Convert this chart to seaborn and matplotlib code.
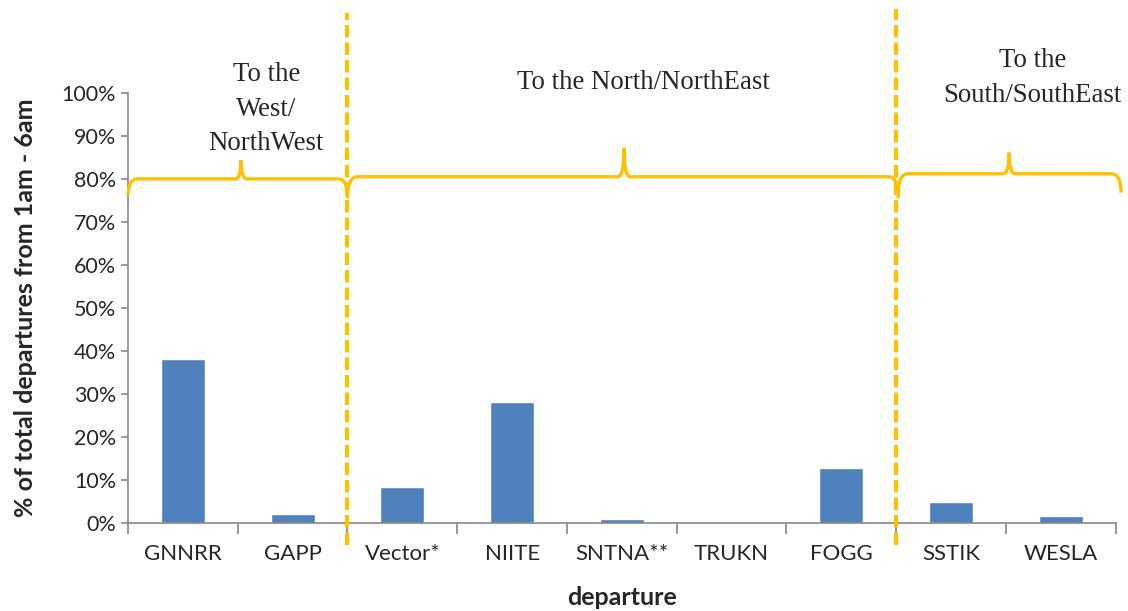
import seaborn as sns
import matplotlib.pyplot as plt
from matplotlib.path import Path
from matplotlib.patches import PathPatch
from matplotlib.ticker import FuncFormatter

# share of departures between 1am and 6am, per departure procedure
departures = ["GNNRR", "GAPP", "Vector*", "NIITE", "SNTNA**", "TRUKN", "FOGG", "SSTIK", "WESLA"]
shares = [38.1, 2.1, 8.4, 28.2, 0.9, 0.0, 12.8, 4.9, 1.6]

# direction groups, left to right
groups = ["To the\nWest/\nNorthWest", "To the North/NorthEast", "To the\nSouth/SouthEast"]

BAR = "#4F81BD"
GOLD = "#FFC000"
GREY = "#868686"

sns.set_style("ticks")
plt.rcParams["font.family"] = ["Lato", "DejaVu Sans"]

fig = plt.figure(figsize=(11.28, 6.11), dpi=100)
ax = fig.add_axes([0.1135, 0.144, 0.8755, 0.704])

sns.barplot(x=departures, y=shares, color=BAR, saturation=1, width=0.4, ax=ax)

ax.set_ylim(0, 100)
ax.set_xlim(-0.5, len(departures) - 0.5)
ax.set_yticks(range(0, 101, 10))
ax.yaxis.set_major_formatter(FuncFormatter(lambda v, p: f"{v:.0f}%"))
ax.set_xticks([i - 0.5 for i in range(len(departures) + 1)], minor=True)
ax.tick_params(axis="x", which="major", length=0, pad=15, labelsize=16, labelcolor="#262626")
ax.tick_params(axis="x", which="minor", length=8, width=1.2, color=GREY)
ax.tick_params(axis="y", length=5, width=1.2, color=GREY, labelsize=15.5, labelcolor="#262626")
sns.despine(ax=ax)
for s in ["left", "bottom"]:
    ax.spines[s].set_color(GREY)
    ax.spines[s].set_linewidth(1.2)

ax.set_xlabel("departure", fontsize=18, fontweight="bold", labelpad=16)
ax.set_ylabel("% of total departures from 1am - 6am", fontsize=18, fontweight="bold", labelpad=18)

# dashed separators between groups
for x, top in [(1.5, 118.5), (6.5, 119.5)]:
    ax.plot([x, x], [-5, top], color=GOLD, lw=3, dashes=(3, 1.2), clip_on=False, zorder=5)


def brace(x0, x1, xm, y, tip, drop, r=0.09):
    verts = [(x0, y - drop), (x0, y), (x0 + r, y),
             (xm - r * 0.6, y),
             (xm, y), (xm, y + tip),
             (xm, y), (xm + r * 0.6, y),
             (x1 - r, y),
             (x1, y), (x1, y - drop)]
    codes = [Path.MOVETO, Path.CURVE3, Path.CURVE3, Path.LINETO, Path.CURVE3, Path.CURVE3,
             Path.CURVE3, Path.CURVE3, Path.LINETO, Path.CURVE3, Path.CURVE3]
    ax.add_patch(PathPatch(Path(verts, codes), fill=False, edgecolor=GOLD, lw=2.4,
                           clip_on=False, zorder=4))


brace(-0.5, 1.5, 0.53, 80.0, 4.4, 3.8)
brace(1.5, 6.52, 4.02, 80.5, 6.7, 5.0)
brace(6.52, 8.55, 7.53, 81.2, 4.9, 4.4)

serif = ["Liberation Serif", "DejaVu Serif"]
ax.text(0.76, 96.2, groups[0], ha="center", va="center", fontsize=19.3, family=serif, linespacing=1.5)
ax.text(4.2, 102.3, groups[1], ha="center", va="center", fontsize=19.3, family=serif)
ax.text(7.74, 103.4, groups[2], ha="center", va="center", fontsize=19.3, family=serif, linespacing=1.5)

fig.savefig("out.png", dpi=100)
